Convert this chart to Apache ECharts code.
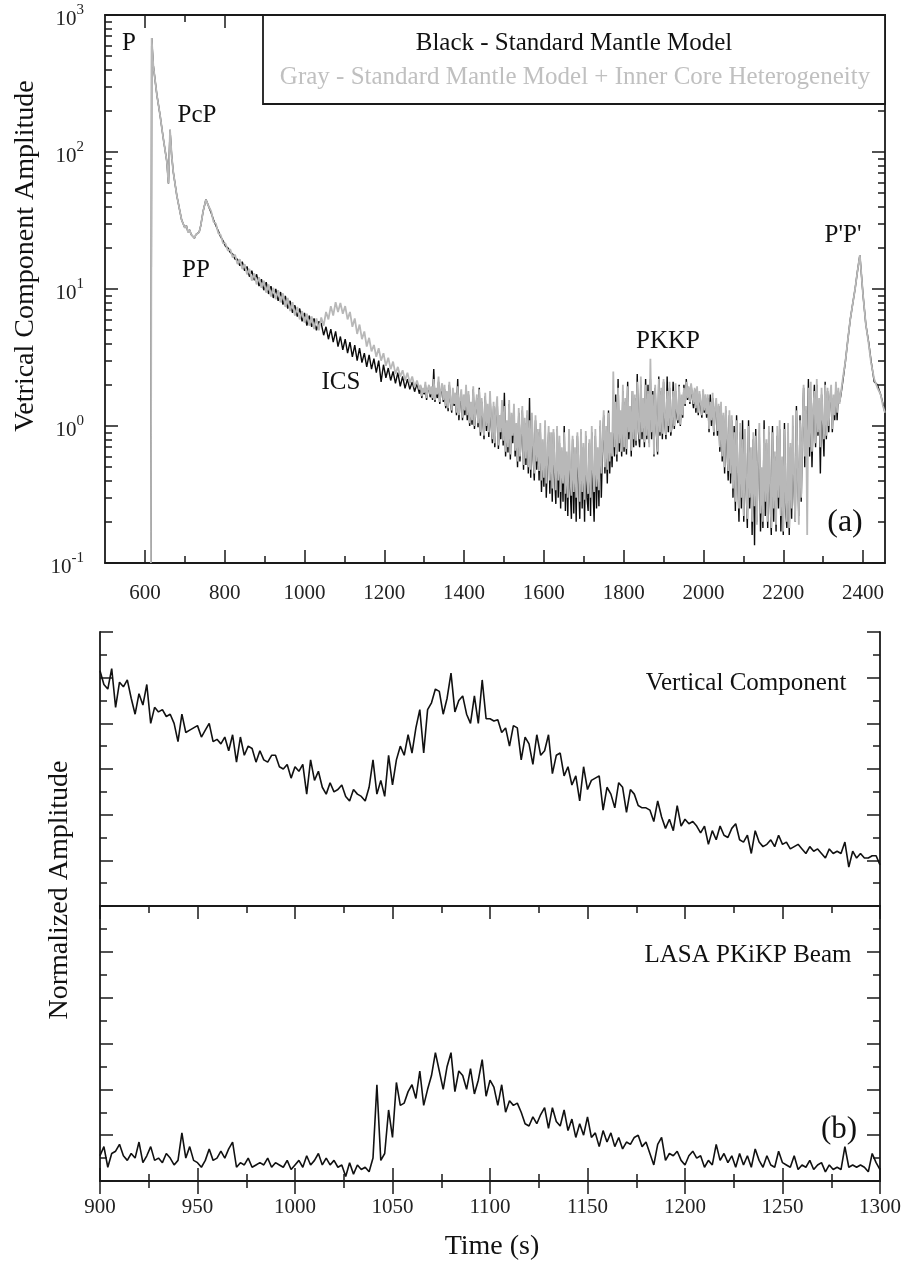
<!DOCTYPE html>
<html><head><meta charset="utf-8">
<script src="https://cdn.jsdelivr.net/npm/echarts@6/dist/echarts.min.js"></script>
<style>html,body{margin:0;padding:0;background:#fff}#c{width:912px;height:1262px}</style>
</head><body><div id="c"></div>
<script>
// ---------- panel (a): onset section (P, PcP, PP) ----------
const onsetTimes = [615,617,621,630,638,646,655,659,663,667,671,680,688,692,696,700,704,708,712,716,720,724,728,732,736,740,746,753,757];
const onsetAmp   = [0.1,680,431,261,186,126,85,59,145,95,72,48,36.6,32,31,28,29,26,27,25,25.5,23.5,25,24.5,26,29,37,45,42];
// ---------- panel (a): early coda, 760 s to 1288 s every 6 s ----------
const codaAStart = 760, codaAStep = 6;
const blackCodaA = [
 41,36,32,29,26.5,24,22.5,20.5,20,18.5, 18,16.5,16.5,14.8,15.8,13.6,14.6,12.3,13.6,11.6,
 12.8,10.5,11.8,9.8,11.2,9.2,10.5,8.6,10,8.2, 9.5,7.7,8.9,7.2,8.2,6.7,7.6,6.3,7.2,5.8, 6.7,5.4,6.4,5.3,6.1,5.0,5.8,
 5.6,4.6,5.3,4.3,5.1,4.1,4.9,3.8,4.5,3.6, 4.3,3.4,4.1,3.2,3.9,3.0,3.7,2.9,3.4,2.7,
 3.3,2.6,3.1,2.45,3.0,2.1,2.8,2.25,2.65,2.15, 2.5,2.05,2.45,1.95,2.3,1.88,2.2,1.85,2.1,1.78, 2.05,1.72
];
const grayCodaA = [
 40,37,31,30,25.5,24.8,21.5,21.5,19,19.5, 17,17.8,15.2,16.5,14,15.2,12.8,14,11.5,13,
 10.8,12.2,10.2,11.5,9.4,10.8,8.8,10.2,8.4,9.8, 8.0,9.3,7.4,8.6,6.9,8.0,6.4,7.4,6.0,6.9, 5.7,6.6,5.4,6.3,5.1,6.1,5.0,
 6.2,5.4,6.8,6.0,7.5,6.4,8.0,6.8,7.9,6.6, 7.5,6.0,6.8,5.3,6.1,4.7,5.5,4.3,4.9,3.8,
 4.4,3.5,3.9,3.2,3.7,3.0,3.4,2.75,3.15,2.6, 2.95,2.4,2.7,2.3,2.55,2.15,2.45,2.05,2.3,1.92, 2.15,1.85
];
// ---------- panel (a): late coda, 1291 s to 2344 s every 3 s ----------
const codaBStart = 1291, codaBStep = 3;
const blackCodaB = [
 1.95,1.6,1.85,1.7,2.0,1.55,1.8,1.95,1.62,1.9,
 1.55,2.6,1.5,1.8,1.6,2.1,1.45,1.75,1.9,1.5,
 1.85,1.35,1.7,1.28,2.0,1.5,1.25,1.8,1.4,1.65,
 1.2,2.2,1.1,1.5,1.75,1.1,1.6,1.2,1.9,1.1,
 1.7,1.0,1.4,1.02,1.85,0.95,1.3,1.6,0.98,1.9,
 0.85,1.5,1.1,0.8,1.65,0.92,1.35,0.83,1.7,1.0,
 0.75,1.4,0.7,1.2,1.55,0.68,1.1,0.8,1.45,0.72,
 1.75,0.6,1.0,0.64,1.45,0.57,1.15,0.75,1.35,0.6,
 1.0,0.5,1.25,0.55,0.85,1.3,0.48,1.05,0.52,1.2,
 0.45,1.6,0.42,1.15,0.6,0.4,1.1,0.48,0.9,0.4,
 0.95,0.33,0.7,0.36,1.0,0.3,0.55,0.9,0.32,0.8,
 0.28,0.9,0.42,0.27,0.95,0.3,0.75,0.25,0.65,0.28,
 1.0,0.24,0.6,0.22,0.85,0.35,0.21,0.8,0.23,0.65,
 0.2,0.85,0.4,0.21,0.9,0.25,0.7,0.2,0.85,0.3,
 0.24,0.75,0.22,0.9,0.35,0.2,0.85,0.25,0.65,0.26,
 1.0,0.3,0.7,1.2,0.45,0.9,0.38,1.3,0.45,0.85,
 0.5,1.3,0.6,1.7,0.55,2.2,0.65,1.2,0.6,1.8,
 0.65,1.5,0.62,2.1,0.8,1.3,0.6,1.8,0.7,1.6,
 0.72,2.4,0.9,0.7,2.0,0.8,1.5,0.7,2.2,0.8,
 2.0,0.75,2.2,0.8,1.8,0.6,1.9,0.9,0.62,2.3,
 0.85,1.8,0.8,2.1,1.1,0.8,2.3,0.9,1.9,0.85,
 1.0,2.1,0.95,1.8,1.2,1.05,2.0,1.0,1.6,1.15,
 2.0,1.4,2.2,1.55,1.9,1.45,2.0,1.6,1.35,1.85,
 1.25,1.8,1.2,1.7,1.4,1.15,1.8,1.25,1.6,1.15,
 1.6,0.9,1.7,1.0,1.6,0.85,1.3,1.5,0.85,1.4,
 0.65,1.35,0.55,1.2,0.45,1.3,0.7,0.4,1.2,0.38,
 1.1,0.3,1.0,0.24,1.2,0.45,0.2,0.9,0.25,1.1,
 0.2,0.85,0.35,0.18,1.1,0.25,0.6,0.16,0.8,0.135,
 0.95,0.2,0.55,0.85,0.17,0.45,0.18,1.1,0.22,0.75,
 0.18,0.9,0.3,0.16,1.0,0.2,0.6,0.17,0.85,0.25,
 0.95,0.17,0.5,0.16,1.05,0.25,0.18,0.9,0.16,0.7,
 0.21,1.0,0.35,0.2,1.4,0.45,0.22,1.2,0.28,0.9,
 1.9,0.5,1.3,0.55,2.2,0.6,1.6,0.5,1.2,2.0,
 0.7,2.0,0.85,1.5,0.45,1.7,1.0,0.6,2.1,0.8,
 1.8,0.9,1.5,1.9,0.9,1.6,1.1,2.0,1.1,1.8,
 1.5,1.65
];
const grayCodaB = [
 2.0,1.65,1.9,1.75,2.1,1.6,1.85,2.0,1.7,1.95,
 1.6,2.2,1.55,1.9,1.7,2.3,1.5,1.85,2.05,1.55,
 2.0,1.4,1.8,1.35,2.1,1.55,1.3,1.9,1.45,1.75,
 1.25,1.95,1.2,1.6,1.85,1.15,1.7,1.3,2.0,1.2,
 1.8,1.05,1.5,1.1,1.95,1.0,1.35,1.7,1.05,1.85,
 0.9,1.6,1.2,0.85,1.75,1.0,1.45,0.9,1.8,1.1,
 0.8,1.5,0.75,1.3,1.65,0.72,1.2,0.9,1.55,0.78,
 1.4,0.65,1.1,0.7,1.55,0.62,1.25,0.85,1.45,0.66,
 1.05,0.55,1.35,0.6,0.9,1.4,0.52,1.15,0.58,1.3,
 0.5,1.1,0.48,1.25,0.7,0.45,1.2,0.55,0.95,0.47,
 1.05,0.4,0.8,0.42,1.1,0.38,0.6,1.0,0.4,0.9,
 0.35,0.95,0.5,0.34,1.0,0.4,0.85,0.33,0.7,0.38,
 0.9,0.32,0.65,0.3,0.95,0.45,0.31,0.85,0.33,0.7,
 0.3,0.9,0.5,0.28,0.95,0.33,0.75,0.29,0.92,0.4,
 0.32,0.8,0.3,1.0,0.45,0.33,0.95,0.36,0.7,0.34,
 1.1,0.45,0.8,1.3,0.5,1.0,0.48,1.25,0.55,0.9,
 0.6,2.5,0.7,1.5,0.62,1.9,0.75,1.3,0.65,2.0,
 0.7,1.6,0.68,1.95,0.9,1.4,0.66,1.8,0.8,1.7,
 0.78,2.1,1.0,0.8,2.3,0.9,1.6,0.76,2.0,0.85,
 1.8,0.7,3.1,0.9,1.7,0.62,2.0,1.0,0.65,2.2,
 0.9,1.9,0.88,2.2,1.2,0.86,1.8,1.0,2.1,0.9,
 1.05,1.8,1.0,2.05,1.3,1.1,1.95,1.02,1.7,1.2,
 1.9,1.45,2.1,1.6,1.95,1.5,2.05,1.7,1.45,1.9,
 1.35,1.95,1.25,1.8,1.5,1.2,1.85,1.3,1.7,1.22,
 1.7,0.95,1.5,1.1,1.75,0.9,1.35,1.6,0.92,1.45,
 0.7,1.5,0.6,1.25,0.5,1.4,0.8,0.47,1.3,0.45,
 1.2,0.35,0.9,0.28,1.1,0.5,0.25,1.05,0.3,0.8,
 0.22,0.95,0.4,0.21,1.0,0.3,0.7,0.2,0.9,0.26,
 0.85,0.19,0.6,1.05,0.23,0.5,0.2,0.95,0.28,0.8,
 0.2,1.0,0.35,0.18,0.9,0.25,0.65,0.19,1.0,0.3,
 1.1,0.22,0.6,0.17,0.95,0.3,0.2,1.05,0.18,0.75,
 0.25,1.2,0.4,0.2,1.3,0.5,0.19,1.1,0.3,0.95,
 2.0,0.6,1.4,0.16,1.9,0.7,2.1,0.65,1.3,1.8,
 0.75,2.2,0.9,1.6,0.7,1.9,1.1,0.8,2.0,0.85,
 1.9,1.0,1.6,2.0,0.95,1.7,1.2,2.1,1.25,1.9,
 1.45,1.7
];
// ---------- panel (a): P'P' arrival ----------
const pppTimes = [2350,2356,2362,2368,2374,2380,2386,2392,2400,2407,2414,2420,2428,2436,2444,2450,2455];
const pppBlack = [2.2,3.0,4.3,6.0,7.8,10,13.5,17.7,9,5.5,4.1,3.0,2.1,2.0,1.7,1.45,1.25];
const pppGray  = [2.3,3.0,4.3,6.0,7.8,10,13.5,17.7,9,5.5,4.0,2.9,2.2,1.9,1.7,1.4,1.25];

// ---------- panel (b): 900-1300 s every 2 s ----------
const bStart = 900, bStep = 2;
const vertComp = [
 5.15,4.85,4.75,5.2,4.35,4.9,4.8,4.95,4.55,4.2,
 4.65,4.4,4.85,4.0,4.35,4.25,4.3,4.15,4.2,4.0,
 3.6,4.2,3.8,3.85,3.9,3.95,3.7,3.85,4.0,3.6,
 3.65,3.55,3.7,3.4,3.75,3.15,3.7,3.3,3.5,3.45,
 3.15,3.4,3.2,3.15,3.3,3.3,3.05,3.0,3.1,2.8,
 3.05,2.95,3.1,2.45,3.2,2.75,2.95,2.6,2.45,2.7,
 2.5,2.55,2.65,2.4,2.3,2.55,2.45,2.4,2.3,2.6,
 3.2,2.45,2.75,2.4,3.3,2.65,3.2,3.5,3.3,3.75,
 3.35,3.9,4.3,3.35,4.3,4.45,4.75,4.7,4.2,4.55,
 5.1,4.25,4.5,4.6,4.2,4.0,4.6,4.0,4.95,4.1,
 4.1,4.05,4.08,3.8,3.9,3.5,3.95,3.9,3.2,3.7,
 3.55,3.1,3.75,3.3,3.4,3.75,2.9,3.3,3.35,2.85,
 3.05,2.65,2.85,2.3,3.05,2.55,2.75,2.8,2.85,2.1,
 2.6,2.45,2.15,2.7,2.6,2.05,2.55,2.45,2.2,2.15,
 2.15,2.1,1.85,2.3,1.95,1.7,1.9,1.65,2.2,1.75,
 1.9,1.8,1.85,1.75,1.6,1.75,1.35,1.65,1.45,1.75,
 1.55,1.5,1.7,1.8,1.45,1.4,1.55,1.15,1.65,1.4,
 1.3,1.35,1.45,1.3,1.55,1.35,1.4,1.25,1.3,1.35,
 1.25,1.15,1.3,1.2,1.25,1.15,1.05,1.25,1.15,1.2,
 1.15,1.4,0.85,1.2,1.05,1.15,1.05,1.05,1.1,1.1,
 0.9
];
const lasaBeam = [
 0.55,0.75,0.3,0.6,0.65,0.8,0.55,0.45,0.6,0.5,
 0.85,0.4,0.55,0.75,0.45,0.5,0.4,0.6,0.5,0.35,
 0.45,1.05,0.5,0.75,0.45,0.4,0.3,0.45,0.7,0.45,
 0.5,0.65,0.5,0.7,0.85,0.3,0.4,0.35,0.5,0.3,
 0.35,0.4,0.35,0.5,0.3,0.4,0.35,0.3,0.45,0.25,
 0.35,0.45,0.3,0.55,0.35,0.45,0.6,0.35,0.5,0.35,
 0.45,0.3,0.35,0.1,0.4,0.15,0.35,0.25,0.3,0.2,
 0.5,2.1,0.45,0.6,1.55,0.95,2.15,1.65,1.7,1.95,
 2.1,1.8,2.4,1.65,2.0,2.3,2.8,2.4,2.0,2.5,
 2.8,1.95,2.4,2.3,2.0,2.45,1.9,2.2,2.65,1.85,
 2.2,2.05,1.65,2.1,1.5,1.75,1.65,1.7,1.5,1.25,
 1.2,1.4,1.25,1.45,1.6,1.15,1.6,1.3,1.2,1.55,
 1.1,1.35,0.95,1.25,1.0,1.4,0.95,1.05,0.75,1.1,
 0.85,1.05,0.75,0.95,0.7,0.85,0.8,0.95,1.0,0.75,
 0.85,0.6,0.35,0.8,0.95,0.45,0.6,0.55,0.65,0.45,
 0.35,0.55,0.65,0.5,0.55,0.3,0.45,0.35,0.8,0.45,
 0.6,0.4,0.55,0.3,0.6,0.35,0.55,0.3,0.7,0.45,
 0.3,0.55,0.35,0.3,0.65,0.4,0.35,0.3,0.55,0.25,
 0.35,0.3,0.45,0.25,0.35,0.4,0.2,0.35,0.25,0.3,
 0.25,0.75,0.3,0.35,0.3,0.35,0.3,0.2,0.6,0.4,
 0.25
];

// ---------- tick values ----------
const topMajorX = [600,800,1000,1200,1400,1600,1800,2000,2200,2400];
const topMinorX = [700,900,1100,1300,1500,1700,1900,2100,2300];
const logMajorY = [0.1,1,10,100,1000];
const logMinorY = [0.2,0.3,0.4,0.5,0.6,0.7,0.8,0.9,2,3,4,5,6,7,8,9,20,30,40,50,60,70,80,90,200,300,400,500,600,700,800,900];

const FONT = '"Liberation Serif","Times New Roman",serif';
const AX = '#1a1a1a';
const GRAY = '#b8b8b8';

function buildTop(codaA, codaB, ppp){
  return [].concat(
    onsetTimes.map((t,i)=>[t,onsetAmp[i]]),
    codaA.map((v,i)=>[codaAStart+i*codaAStep,v]),
    codaB.map((v,i)=>[codaBStart+i*codaBStep,v]),
    pppTimes.map((t,i)=>[t,ppp[i]]));
}
const blackTop = buildTop(blackCodaA, blackCodaB, pppBlack);
const grayTop  = buildTop(grayCodaA, grayCodaB, pppGray);
const vertData = vertComp.map((v,i)=>[bStart+i*bStep,v]);
const lasaData = lasaBeam.map((v,i)=>[bStart+i*bStep,v]);

const plain = (v)=>String(v);
const line = (w)=>({show:true, lineStyle:{color:AX, width:w}});
const noLine = {show:false};
function tickX(grid, pos, vals, len, labels, showLine){
  return {type:'value', gridIndex:grid, position:pos, min:500, max:2455,
    axisLine: showLine ? line(1.8) : noLine,
    axisTick:{show:true, inside:true, length:len, customValues:vals, lineStyle:{color:AX,width:1.5}},
    axisLabel: labels ? {show:true, customValues:vals, fontSize:21, fontFamily:FONT, color:'#222', margin:20, formatter:plain} : {show:false},
    splitLine:{show:false}};
}
function logY(pos, vals, len, labels, showLine){
  return {type:'log', logBase:10, gridIndex:0, position:pos, min:0.1, max:1000,
    axisLine: showLine ? line(1.8) : noLine,
    axisTick:{show:true, inside:true, length:len, customValues:vals, lineStyle:{color:AX,width:1.5}},
    axisLabel: labels ? {show:true, customValues:vals, margin:21, fontSize:20, fontFamily:FONT, color:'#222',
      formatter:(v)=>'{b|10}{s|'+Math.round(Math.log10(v))+'}',
      rich:{b:{fontSize:21, fontFamily:FONT, color:'#222', padding:[9,0,0,0]},
            s:{fontSize:15, fontFamily:FONT, color:'#222', padding:[0,0,9,0]}}} : {show:false},
    splitLine:{show:false}, minorTick:{show:false}};
}
function linX(grid, pos, ticks, labels){
  return {type:'value', gridIndex:grid, position:pos, min:900, max:1300, interval:50,
    axisLine: line(1.8),
    axisTick:{show:ticks, inside:true, length:13, lineStyle:{color:AX,width:1.5}},
    minorTick:{show:ticks, splitNumber:2, length:7, lineStyle:{color:AX,width:1.5}},
    axisLabel: labels ? {show:true, fontSize:21, fontFamily:FONT, color:'#222', margin:16, formatter:plain} : {show:false},
    splitLine:{show:false}, minorSplitLine:{show:false}};
}
function linY(grid, pos){
  return {type:'value', gridIndex:grid, position:pos, min:0, max:6, interval:1,
    axisLine: line(1.8),
    axisTick:{show:true, inside:true, length:13, lineStyle:{color:AX,width:1.5}},
    minorTick:{show:true, splitNumber:2, length:7, lineStyle:{color:AX,width:1.5}},
    axisLabel:{show:false}, splitLine:{show:false}, minorSplitLine:{show:false}};
}

const txt = (x,y,text,size,color,extra)=>Object.assign({type:'text', x:x, y:y, z:110,
  style:{text:text, font:size+'px '+FONT, fill:color||'#111', align:'center', verticalAlign:'middle', textAlign:'center', textVerticalAlign:'middle'}}, extra||{});

const chart = echarts.init(document.getElementById('c'), null, {renderer:'canvas'});
chart.setOption({
  backgroundColor:'#fff',
  animation:false,
  grid:[
    {left:105, top:15, width:780, height:548},
    {left:100, top:632, width:780, height:274},
    {left:100, top:906, width:780, height:275}
  ],
  xAxis:[
    tickX(0,'bottom',topMajorX,13,true,true),
    tickX(0,'bottom',topMinorX,7,false,false),
    tickX(0,'top',topMajorX,13,false,true),
    tickX(0,'top',topMinorX,7,false,false),
    linX(1,'bottom',false,false),
    linX(1,'top',true,false),
    linX(2,'bottom',true,true),
    linX(2,'top',true,false)
  ],
  yAxis:[
    logY('left',logMajorY,13,true,true),
    logY('left',logMinorY,7,false,false),
    logY('right',logMajorY,13,false,true),
    logY('right',logMinorY,7,false,false),
    linY(1,'left'), linY(1,'right'),
    linY(2,'left'), linY(2,'right')
  ],
  series:[
    {type:'line', xAxisIndex:0, yAxisIndex:0, data:blackTop, symbol:'none', showSymbol:false, z:2,
     lineStyle:{color:'#0a0a0a', width:1.4}},
    {type:'line', xAxisIndex:0, yAxisIndex:0, data:grayTop, symbol:'none', showSymbol:false, z:3,
     lineStyle:{color:GRAY, width:1.8}},
    {type:'line', xAxisIndex:4, yAxisIndex:4, data:vertData, symbol:'none', showSymbol:false,
     lineStyle:{color:'#111', width:1.6}},
    {type:'line', xAxisIndex:6, yAxisIndex:6, data:lasaData, symbol:'none', showSymbol:false,
     lineStyle:{color:'#111', width:1.6}}
  ],
  graphic:[
    {type:'rect', z:100, shape:{x:263, y:15, width:622, height:89}, style:{fill:'#fff', stroke:AX, lineWidth:1.8}},
    txt(574,43,'Black - Standard Mantle Model',25,'#111'),
    txt(575,77,'Gray - Standard Mantle Model + Inner Core Heterogeneity',25,'#c0c0c0'),
    txt(129,43,'P',25),
    txt(197,115,'PcP',25),
    txt(196,270,'PP',25),
    txt(341,382,'ICS',25),
    txt(668,341,'PKKP',25),
    txt(843,235,"P'P'",25),
    txt(845,523,'(a)',32),
    txt(746,683,'Vertical Component',25),
    txt(748,955,'LASA PKiKP Beam',25),
    txt(839,1130,'(b)',31),
    txt(492,1247,'Time (s)',28),
    txt(26,256,'Vetrical Component Amplitude',28,'#111',{rotation:Math.PI/2}),
    txt(60,890,'Normalized Amplitude',28,'#111',{rotation:Math.PI/2})
  ]
});
</script></body></html>
